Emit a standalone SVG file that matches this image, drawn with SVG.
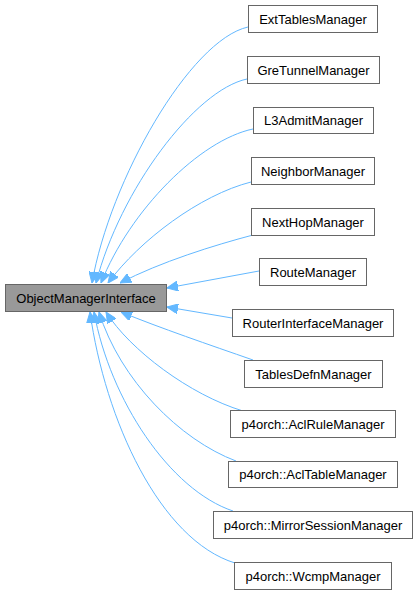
<svg xmlns="http://www.w3.org/2000/svg" width="417" height="595" viewBox="0 0 417 595">
<style>
.n rect{fill:#ffffff;stroke:#666666;stroke-width:1}
.n.main rect{fill:#999999}
.n text{font-family:"Liberation Sans",Arial,sans-serif;font-size:13px;fill:#000000;text-anchor:middle}
.e path{fill:none;stroke:#63b8ff;stroke-width:1;marker-end:url(#ah)}
</style>
<defs>
<marker id="ah" viewBox="0 0 11 10" refX="11" refY="5" markerWidth="11" markerHeight="10" markerUnits="userSpaceOnUse" orient="auto">
<path d="M0,0 L11,5 L0,10 z" fill="#63b8ff" stroke="#63b8ff"/>
</marker>
</defs>
<rect width="417" height="595" fill="#ffffff"/>
<g id="edges" class="e">
<path d="M248,27 C190,40 110,180 92,283"/>
<path d="M247,79 C195,90 120,190 96,283"/>
<path d="M253,129 C200,140 130,210 101,283"/>
<path d="M251,182 C200,195 140,240 108,283"/>
<path d="M253,235 C215,245 160,262 120,283"/>
<path d="M259,271 L167,288"/>
<path d="M232,318 L167,307"/>
<path d="M253,360 C210,345 160,328 121,312"/>
<path d="M243,411 C190,395 130,350 106,312"/>
<path d="M236,461 C180,440 120,380 99,312"/>
<path d="M233,511 C170,490 110,400 94,312"/>
<path d="M235,563 C160,540 105,420 90,312"/>
</g>
<g id="ObjectManagerInterface" class="n main"><rect x="5.5" y="284.5" width="161" height="27"/><text x="86" y="302.5">ObjectManagerInterface</text></g>
<g id="ExtTablesManager" class="n"><rect x="248.5" y="5.5" width="129" height="27"/><text x="313" y="23.5">ExtTablesManager</text></g>
<g id="GreTunnelManager" class="n"><rect x="247.5" y="56.5" width="132" height="27"/><text x="313.5" y="74.5">GreTunnelManager</text></g>
<g id="L3AdmitManager" class="n"><rect x="253.5" y="107.5" width="120" height="26"/><text x="313.5" y="125">L3AdmitManager</text></g>
<g id="NeighborManager" class="n"><rect x="251.5" y="157.5" width="123" height="27"/><text x="313" y="175.5">NeighborManager</text></g>
<g id="NextHopManager" class="n"><rect x="251.5" y="208.5" width="123" height="27"/><text x="313" y="226.5">NextHopManager</text></g>
<g id="RouteManager" class="n"><rect x="259.5" y="258.5" width="107" height="27"/><text x="313" y="276.5">RouteManager</text></g>
<g id="RouterInterfaceManager" class="n"><rect x="232.5" y="309.5" width="161" height="27"/><text x="313" y="327.5">RouterInterfaceManager</text></g>
<g id="TablesDefnManager" class="n"><rect x="244.5" y="360.5" width="138" height="27"/><text x="313.5" y="378.5">TablesDefnManager</text></g>
<g id="AclRuleManager" class="n"><rect x="230.5" y="410.5" width="165" height="27"/><text x="313" y="428.5">p4orch::AclRuleManager</text></g>
<g id="AclTableManager" class="n"><rect x="228.5" y="461.5" width="169" height="26"/><text x="313" y="479">p4orch::AclTableManager</text></g>
<g id="MirrorSessionManager" class="n"><rect x="213.5" y="511.5" width="199" height="27"/><text x="313" y="529.5">p4orch::MirrorSessionManager</text></g>
<g id="WcmpManager" class="n"><rect x="234.5" y="562.5" width="157" height="27"/><text x="313" y="580.5">p4orch::WcmpManager</text></g>
</svg>
